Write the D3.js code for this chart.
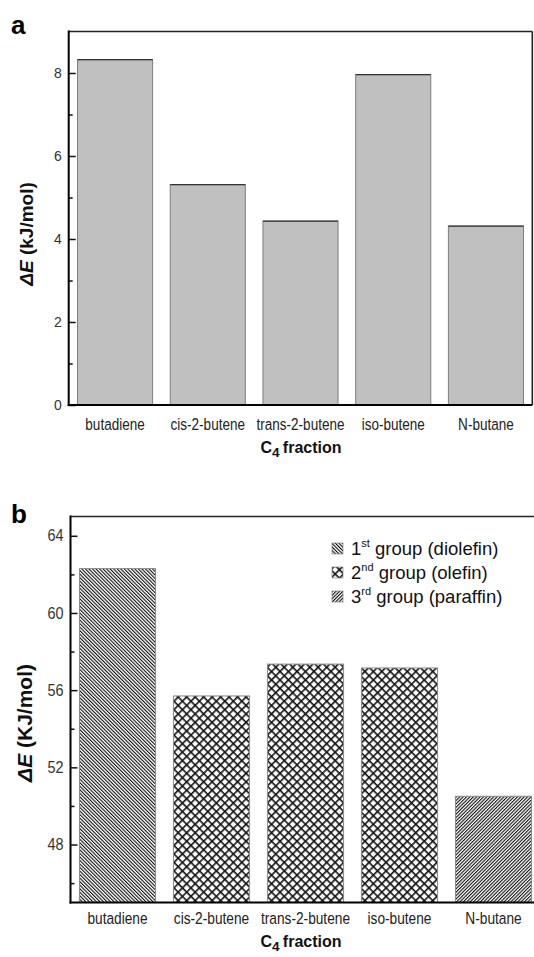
<!DOCTYPE html>
<html>
<head>
<meta charset="utf-8">
<script src="https://cdn.jsdelivr.net/npm/d3@7"></script>
<style>
  html, body { margin: 0; padding: 0; background: #fff; }
  svg { display: block; font-family: "Liberation Sans", Arial, Helvetica, sans-serif; }
</style>
</head>
<body>
<svg id="fig" width="534" height="957"></svg>
<script>
// C4 fraction components
const categories = ["butadiene", "cis-2-butene", "trans-2-butene", "iso-butene", "N-butane"];
// panel a: ΔE (kJ/mol)
const energyA = [8.32, 5.31, 4.43, 7.96, 4.31];
// panel b: ΔE (KJ/mol)
const energyB = [62.3, 55.7, 57.35, 57.15, 50.5];
const groupB = ["diolefin", "olefin", "olefin", "olefin", "paraffin"];
// axis ticks
const majorTicksA = [0, 2, 4, 6, 8];
const minorTicksA = [1, 3, 5, 7];
const majorTicksB = [48, 52, 56, 60, 64];
const minorTicksB = [46, 50, 54, 58, 62];
// legend of panel b
const legendGroups = ["diolefin", "olefin", "paraffin"];
const legendOrdinals = ["1", "2", "3"];
const legendSuffixes = ["st", "nd", "rd"];
const legendNames = ["group (diolefin)", "group (olefin)", "group (paraffin)"];

const svg = d3.select("#fig");
const defs = svg.append("defs");

// hatch fills
function stripes(id, angle, period, width, cross) {
  const p = defs.append("pattern")
    .attr("id", id)
    .attr("patternUnits", "userSpaceOnUse")
    .attr("width", period).attr("height", period)
    .attr("patternTransform", `rotate(${angle})`);
  p.append("rect").attr("width", period).attr("height", period).attr("fill", "#fff");
  p.append("rect").attr("x", 0).attr("y", 0).attr("width", width).attr("height", period).attr("fill", "#111");
  if (cross) p.append("rect").attr("x", 0).attr("y", 0).attr("width", period).attr("height", width).attr("fill", "#111");
}
stripes("hatch-diolefin", -45, 2.5, 1.1, false);
stripes("hatch-olefin", 45, 6.0, 1.6, true);
stripes("hatch-paraffin", 45, 2.4, 1.1, false);

// horizontally condensed text helper
function squeeze(sel, sx) {
  sel.each(function () {
    const t = d3.select(this);
    const x = +t.attr("x") || 0;
    t.attr("transform", `translate(${x},0) scale(${sx},1) translate(${-x},0)`);
  });
}

function panel(cfg) {
  const x = d3.scaleBand().domain(categories)
    .range([cfg.left, cfg.right]).paddingInner(0.19).paddingOuter(0.095);
  const y = d3.scaleLinear().domain(cfg.domain).range([cfg.bottom, cfg.top]);
  const g = svg.append("g");

  // bars
  g.selectAll("rect.bar").data(cfg.values).join("rect")
    .attr("class", "bar")
    .attr("x", (d, i) => x(categories[i]))
    .attr("width", x.bandwidth())
    .attr("y", d => y(d))
    .attr("height", d => y(cfg.domain[0]) - y(d))
    .attr("fill", (d, i) => cfg.fill(i))
    .attr("stroke", cfg.barStroke)
    .attr("stroke-width", 1);
  if (cfg.topEdge) {
    g.selectAll("line.edge").data(cfg.values).join("line")
      .attr("class", "edge")
      .attr("x1", (d, i) => x(categories[i]))
      .attr("x2", (d, i) => x(categories[i]) + x.bandwidth())
      .attr("y1", d => y(d)).attr("y2", d => y(d))
      .attr("stroke", "#333").attr("stroke-width", 1.3);
  }

  // frame: top and right
  g.append("line").attr("x1", cfg.left).attr("x2", cfg.right)
    .attr("y1", cfg.top).attr("y2", cfg.top)
    .attr("stroke", "#222").attr("stroke-width", 1.6);
  g.append("line").attr("x1", cfg.right).attr("x2", cfg.right)
    .attr("y1", cfg.top).attr("y2", cfg.bottom)
    .attr("stroke", "#222").attr("stroke-width", 1.6);

  // y axis, ticks pointing inward
  const ay = g.append("g").attr("transform", `translate(${cfg.left},0)`)
    .call(d3.axisLeft(y).tickValues(cfg.major).tickSizeInner(-7).tickSizeOuter(0).tickPadding(7));
  ay.select(".domain").remove();
  ay.selectAll(".tick line").attr("stroke", "#111").attr("stroke-width", 1.5);
  ay.selectAll(".tick text").attr("font-size", cfg.tickFont).attr("fill", "#333")
    .call(squeeze, 0.9);
  const am = g.append("g").attr("transform", `translate(${cfg.left},0)`)
    .call(d3.axisLeft(y).tickValues(cfg.minor).tickSizeInner(-4).tickSizeOuter(0).tickFormat(""));
  am.select(".domain").remove();
  am.selectAll(".tick line").attr("stroke", "#111").attr("stroke-width", 1.5);

  // left and bottom axis lines
  g.append("line").attr("x1", cfg.left).attr("x2", cfg.left)
    .attr("y1", cfg.top - 1).attr("y2", cfg.bottom + 1)
    .attr("stroke", "#000").attr("stroke-width", 2);
  g.append("line").attr("x1", cfg.left - 1).attr("x2", cfg.right)
    .attr("y1", cfg.bottom).attr("y2", cfg.bottom)
    .attr("stroke", "#000").attr("stroke-width", 2);

  // category labels
  g.selectAll("text.cat").data(categories).join("text")
    .attr("class", "cat")
    .attr("x", d => x(d) + x.bandwidth() / 2)
    .attr("y", cfg.catY)
    .attr("text-anchor", "middle")
    .attr("font-size", cfg.catFont)
    .attr("fill", "#222")
    .text(d => d)
    .call(squeeze, cfg.catSqueeze);

  // x title: C4 fraction
  const xt = g.append("text")
    .attr("x", 301).attr("y", cfg.xTitleY)
    .attr("text-anchor", "middle")
    .attr("font-size", cfg.xTitleFont).attr("font-weight", "bold").attr("fill", "#111");
  xt.append("tspan").text("C");
  xt.append("tspan").attr("dy", 4).attr("font-size", cfg.xTitleFont * 0.85).text("4");
  xt.append("tspan").attr("dy", -4).text("\u2009fraction");

  // y title
  const yt = g.append("text")
    .attr("transform", `translate(${cfg.yTitleX},${cfg.yTitleY}) rotate(-90)`)
    .attr("text-anchor", "middle")
    .attr("font-size", cfg.yTitleFont).attr("font-weight", "bold").attr("fill", "#111");
  yt.append("tspan").attr("font-style", "italic").text("\u0394E");
  yt.append("tspan").text(" " + cfg.unit);

  // panel letter
  svg.append("text").attr("x", 11).attr("y", cfg.letterY)
    .attr("font-size", 26).attr("font-weight", "bold").attr("fill", "#000")
    .text(cfg.letter);

  return { x, y, g };
}

// panel a
panel({
  letter: "a", letterY: 34,
  left: 68.7, right: 532.3, top: 31.5, bottom: 405,
  domain: [0, 9], values: energyA,
  major: majorTicksA, minor: minorTicksA,
  fill: () => "#c0c0c0", barStroke: "#7e7e7e", topEdge: true,
  tickFont: 15.5, catFont: 16.5, catSqueeze: 0.82, catY: 430,
  xTitleFont: 16, xTitleY: 453,
  yTitleFont: 19, yTitleX: 33, yTitleY: 234, unit: "(kJ/mol)"
});

// panel b
const pb = panel({
  letter: "b", letterY: 523,
  left: 70.5, right: 540.5, top: 516.5, bottom: 902.4,
  domain: [45, 65], values: energyB,
  major: majorTicksB, minor: minorTicksB,
  fill: i => `url(#hatch-${groupB[i]})`, barStroke: "#8a8a8a", topEdge: false,
  tickFont: 16, catFont: 16.5, catSqueeze: 0.83, catY: 924,
  xTitleFont: 16, xTitleY: 947,
  yTitleFont: 21, yTitleX: 32, yTitleY: 723, unit: "(KJ/mol)"
});

// legend of panel b
const legend = pb.g.append("g");
const rowY = d3.scalePoint().domain(legendGroups).range([555, 603]);
legendGroups.forEach((grp, i) => {
  const yb = rowY(grp);
  legend.append("rect")
    .attr("x", 332).attr("y", yb - 12).attr("width", 11).attr("height", 11)
    .attr("fill", `url(#hatch-${grp})`).attr("stroke", "#777").attr("stroke-width", 0.6);
  const t = legend.append("text")
    .attr("x", 351).attr("y", yb)
    .attr("font-size", 18.5).attr("fill", "#111");
  t.append("tspan").text(legendOrdinals[i]);
  t.append("tspan").attr("dy", -8).attr("font-size", 11).text(legendSuffixes[i]);
  t.append("tspan").attr("dy", 8).text(" " + legendNames[i]);
});
</script>
</body>
</html>
